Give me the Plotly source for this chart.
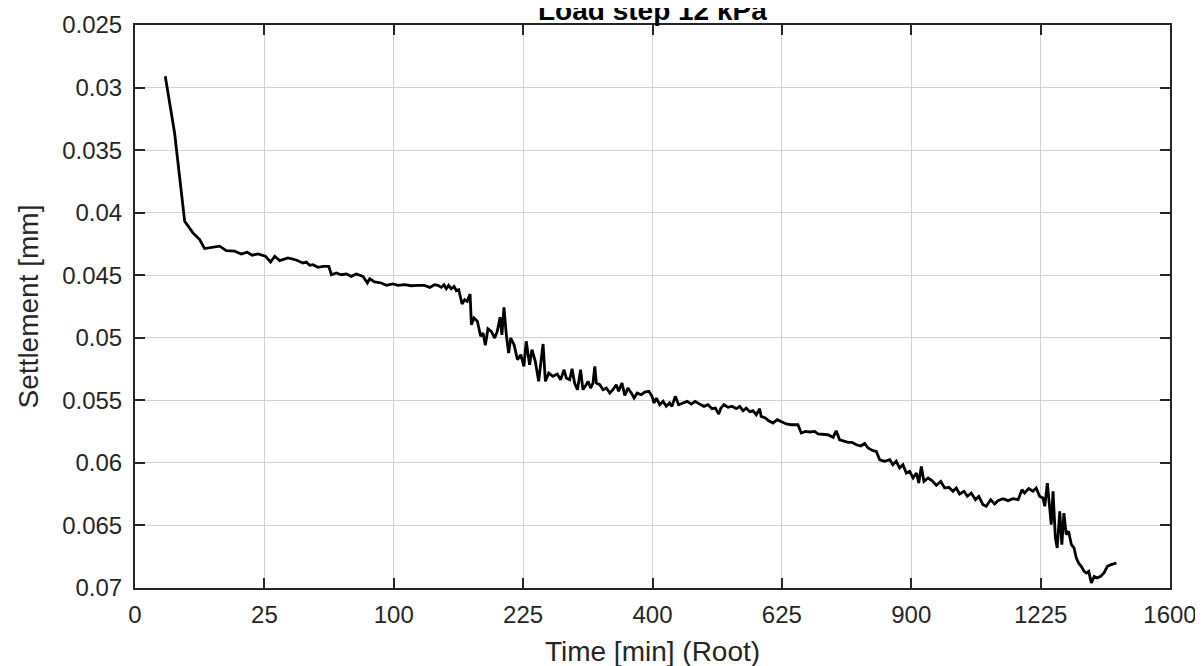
import plotly.graph_objects as go

# Root-time axis values (sqrt of minutes) and settlement [mm]
sqrt_time = [
    1.17, 1.53, 1.92, 2.24, 2.50, 2.69, 3.27, 3.53, 3.85, 4.11, 4.34, 4.53, 4.75, 5.04, 5.24, 5.40,
    5.59, 5.91, 6.23, 6.49, 6.62, 6.75, 6.88, 7.07, 7.27, 7.49, 7.59, 7.78, 7.97, 8.17, 8.36, 8.55,
    8.81, 8.98, 9.07, 9.26, 9.52, 9.71, 9.97, 10.16, 10.42, 10.68, 10.94, 11.19, 11.39, 11.58, 11.71, 11.84,
    11.94, 12.03, 12.12, 12.22, 12.33, 12.42, 12.51, 12.64, 12.74, 12.84, 12.95, 13.00, 13.10, 13.23, 13.36, 13.45,
    13.54, 13.64, 13.77, 13.90, 14.00, 14.11, 14.18, 14.26, 14.35, 14.44, 14.52, 14.65, 14.78, 14.91, 15.03, 15.12,
    15.25, 15.34, 15.47, 15.60, 15.77, 15.86, 15.99, 16.15, 16.32, 16.45, 16.58, 16.67, 16.80, 16.89, 16.99, 17.10,
    17.22, 17.31, 17.40, 17.51, 17.61, 17.70, 17.77, 17.83, 17.96, 18.09, 18.22, 18.35, 18.47, 18.60, 18.69, 18.82,
    18.93, 19.05, 19.18, 19.29, 19.41, 19.57, 19.70, 19.86, 19.98, 20.06, 20.15, 20.28, 20.41, 20.53, 20.66, 20.75,
    20.88, 21.01, 21.18, 21.34, 21.50, 21.65, 21.82, 21.99, 22.14, 22.30, 22.43, 22.56, 22.63, 22.76, 22.92, 23.07,
    23.24, 23.37, 23.50, 23.62, 23.76, 23.88, 24.01, 24.14, 24.20, 24.36, 24.49, 24.66, 24.82, 24.98, 25.17, 25.36,
    25.62, 25.75, 25.91, 26.07, 26.27, 26.40, 26.59, 26.78, 26.98, 27.10, 27.23, 27.40, 27.56, 27.71, 27.88, 28.05,
    28.20, 28.33, 28.52, 28.65, 28.78, 28.97, 29.17, 29.29, 29.42, 29.55, 29.68, 29.81, 29.94, 30.07, 30.20, 30.29,
    30.39, 30.49, 30.65, 30.80, 30.97, 31.14, 31.29, 31.45, 31.61, 31.74, 31.87, 32.04, 32.17, 32.32, 32.48, 32.61,
    32.77, 32.90, 33.07, 33.22, 33.35, 33.55, 33.74, 33.93, 34.13, 34.28, 34.38, 34.54, 34.70, 34.83, 34.96, 35.09,
    35.16, 35.26, 35.35, 35.41, 35.48, 35.57, 35.64, 35.74, 35.82, 35.90, 35.99, 36.08, 36.19, 36.29, 36.38, 36.47,
    36.57, 36.68, 36.77, 36.86, 36.96, 37.07, 37.19, 37.32, 37.45, 37.58, 37.73, 37.93,
]

settlement_mm = [
    0.02910, 0.03363, 0.04069, 0.04162, 0.04215, 0.04287, 0.04268, 0.04303, 0.04308, 0.04330, 0.04316, 0.04340, 0.04330, 0.04348, 0.04394, 0.04348,
    0.04383, 0.04362, 0.04378, 0.04402, 0.04394, 0.04421, 0.04416, 0.04437, 0.04429, 0.04429, 0.04496, 0.04482, 0.04496, 0.04490, 0.04509, 0.04490,
    0.04509, 0.04562, 0.04528, 0.04554, 0.04562, 0.04581, 0.04570, 0.04581, 0.04576, 0.04584, 0.04581, 0.04581, 0.04597, 0.04576, 0.04581, 0.04597,
    0.04576, 0.04608, 0.04581, 0.04608, 0.04589, 0.04624, 0.04616, 0.04730, 0.04696, 0.04709, 0.04650, 0.04896, 0.04842, 0.04868, 0.04988, 0.04962,
    0.05060, 0.04928, 0.04949, 0.05002, 0.04949, 0.04836, 0.04976, 0.04756, 0.04976, 0.05122, 0.05002, 0.05055, 0.05175, 0.05135, 0.05228, 0.05028,
    0.05215, 0.05095, 0.05188, 0.05348, 0.05050, 0.05348, 0.05282, 0.05308, 0.05290, 0.05335, 0.05255, 0.05322, 0.05335, 0.05247, 0.05362, 0.05415,
    0.05255, 0.05415, 0.05388, 0.05348, 0.05402, 0.05362, 0.05228, 0.05362, 0.05375, 0.05415, 0.05402, 0.05442, 0.05415, 0.05375, 0.05428, 0.05362,
    0.05460, 0.05402, 0.05442, 0.05482, 0.05442, 0.05455, 0.05434, 0.05428, 0.05468, 0.05521, 0.05482, 0.05535, 0.05508, 0.05548, 0.05521, 0.05548,
    0.05468, 0.05535, 0.05521, 0.05508, 0.05530, 0.05508, 0.05530, 0.05548, 0.05535, 0.05567, 0.05562, 0.05610, 0.05567, 0.05535, 0.05556, 0.05548,
    0.05567, 0.05548, 0.05583, 0.05562, 0.05591, 0.05583, 0.05615, 0.05567, 0.05628, 0.05641, 0.05663, 0.05681, 0.05655, 0.05668, 0.05689, 0.05695,
    0.05695, 0.05761, 0.05748, 0.05753, 0.05748, 0.05769, 0.05775, 0.05775, 0.05796, 0.05743, 0.05815, 0.05825, 0.05836, 0.05836, 0.05855, 0.05865,
    0.05845, 0.05881, 0.05903, 0.05908, 0.05975, 0.05987, 0.05975, 0.06015, 0.05987, 0.06041, 0.06015, 0.06081, 0.06068, 0.06121, 0.06081, 0.06161,
    0.06028, 0.06148, 0.06121, 0.06142, 0.06179, 0.06148, 0.06201, 0.06195, 0.06227, 0.06201, 0.06249, 0.06227, 0.06267, 0.06241, 0.06294, 0.06267,
    0.06334, 0.06347, 0.06294, 0.06329, 0.06302, 0.06286, 0.06302, 0.06286, 0.06294, 0.06214, 0.06241, 0.06206, 0.06227, 0.06201, 0.06267, 0.06281,
    0.06347, 0.06161, 0.06401, 0.06494, 0.06227, 0.06600, 0.06680, 0.06387, 0.06654, 0.06401, 0.06574, 0.06547, 0.06654, 0.06680, 0.06760, 0.06800,
    0.06827, 0.06867, 0.06880, 0.06867, 0.06960, 0.06907, 0.06920, 0.06907, 0.06880, 0.06827, 0.06813, 0.06800,
]

x_tick_labels = ["0", "25", "100", "225", "400", "625", "900", "1225", "1600"]
y_tick_values = [0.025, 0.03, 0.035, 0.04, 0.045, 0.05, 0.055, 0.06, 0.065, 0.07]
y_tick_labels = ["0.025", "0.03", "0.035", "0.04", "0.045", "0.05", "0.055", "0.06", "0.065", "0.07"]

x_tick_values = [float(lbl) ** 0.5 for lbl in x_tick_labels]

FONT = "Liberation Sans, Arial, Helvetica, sans-serif"
TXT = "#262626"

fig = go.Figure()
fig.add_trace(go.Scatter(
    x=sqrt_time, y=settlement_mm, mode="lines",
    line=dict(color="black", width=2.8), showlegend=False, hoverinfo="x+y",
))

axis_common = dict(
    showline=True, linecolor=TXT, linewidth=2, mirror="ticks",
    ticks="inside", ticklen=10, tickwidth=2, tickcolor=TXT,
    showgrid=True, gridcolor="#d2d2d2", gridwidth=1,
    zeroline=False, automargin=False,
    tickfont=dict(family=FONT, size=24, color=TXT),
)

fig.update_layout(
    width=1203, height=666,
    margin=dict(l=127, r=41, t=17, b=86),
    paper_bgcolor="white", plot_bgcolor="white",
    font=dict(family=FONT, color=TXT),
    xaxis=dict(
        range=[0, 40], tickvals=x_tick_values, ticktext=x_tick_labels,
        ticklabelstandoff=4,
        title=dict(text="Time [min] (Root)", font=dict(family=FONT, size=28, color=TXT)),
        **axis_common,
    ),
    yaxis=dict(
        range=[0.07, 0.025], tickvals=y_tick_values, ticktext=y_tick_labels,
        ticklabelstandoff=6,
        title=dict(text="Settlement [mm]", font=dict(family=FONT, size=28, color=TXT)),
        **axis_common,
    ),
    annotations=[dict(
        text="<b>Load step 12 kPa</b>", xref="paper", yref="paper", x=0.5, y=1,
        xanchor="center", yanchor="bottom", yshift=-3, showarrow=False,
        font=dict(family=FONT, size=28, color="black"),
    )],
)

fig.write_html("out.html")
